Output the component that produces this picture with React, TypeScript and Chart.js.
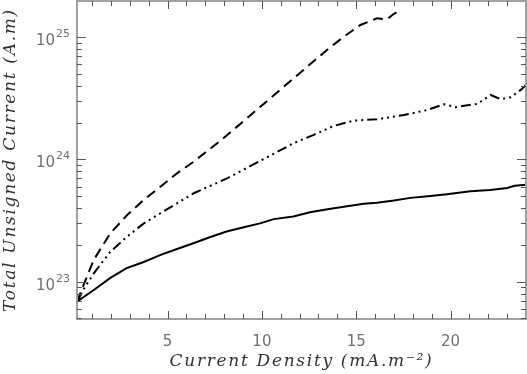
import React, { useEffect, useRef } from 'react';
import { Chart, registerables } from 'chart.js';

Chart.register(...registerables);

// Solid curve
const solidX = [0.2, 1.07, 1.95, 2.83, 3.74, 4.6, 5.5, 6.37, 7.27, 8.13, 9.04, 9.9, 10.63, 11.67, 12.55, 13.4, 14.34, 15.4, 16.1, 17.0, 17.87, 18.8, 19.81, 21.05, 22.1, 23.0, 23.4, 24.0];
const solidY = [6.86e22, 8.5e22, 1.07e23, 1.29e23, 1.45e23, 1.65e23, 1.85e23, 2.06e23, 2.32e23, 2.57e23, 2.79e23, 3.0e23, 3.25e23, 3.42e23, 3.7e23, 3.9e23, 4.1e23, 4.35e23, 4.43e23, 4.62e23, 4.85e23, 5.0e23, 5.19e23, 5.5e23, 5.62e23, 5.85e23, 6.1e23, 6.2e23];

// Dash-dot-dot-dot curve
const dotX = [0.2, 0.65, 1.09, 1.97, 2.86, 3.74, 4.62, 5.5, 6.39, 8.15, 10.0, 11.69, 12.75, 13.81, 14.87, 16.1, 17.53, 18.77, 19.65, 20.27, 21.42, 22.13, 22.66, 23.19, 23.72, 24.0];
const dotY = [6.86e22, 9.2e22, 1.17e23, 1.76e23, 2.34e23, 3.0e23, 3.63e23, 4.38e23, 5.29e23, 7.0e23, 9.9e23, 1.36e24, 1.59e24, 1.88e24, 2.08e24, 2.13e24, 2.31e24, 2.54e24, 2.83e24, 2.68e24, 2.85e24, 3.37e24, 3.11e24, 3.23e24, 3.71e24, 4.07e24];

// Dashed curve
const dashX = [0.2, 0.56, 1.09, 1.97, 2.86, 3.74, 4.62, 5.5, 6.39, 7.89, 9.92, 11.69, 13.45, 14.34, 15.22, 16.1, 16.63, 16.98, 17.4];
const dashY = [6.86e22, 9.5e22, 1.51e23, 2.49e23, 3.51e23, 4.67e23, 5.99e23, 7.7e23, 9.6e23, 1.46e24, 2.7e24, 4.62e24, 7.87e24, 1.01e25, 1.26e25, 1.43e25, 1.40e25, 1.55e25, 1.68e25];

const xTickLabels = [5, 10, 15, 20];
const yTickExponents = [23, 24, 25];

const X_MIN = 0.2;
const X_MAX = 24;
const Y_MIN = 4.95e22;
const Y_MAX = 1.98e25;

const toPoints = (xs: number[], ys: number[]) => xs.map((x, i) => ({ x, y: ys[i] }));

const framePlugin = {
  id: 'idlFrame',
  beforeDraw(chart: any) {
    (chart.ctx as any).letterSpacing = '1.7px';
  },
  beforeDatasetsDraw(chart: any) {
    (chart.ctx as any).letterSpacing = '0px';
  },
  afterDraw(chart: any) {
    const { ctx, chartArea: a, scales } = chart;
    const xs = scales.x;
    const ys = scales.y;
    ctx.save();
    (ctx as any).letterSpacing = '0px';
    // frame
    ctx.strokeStyle = '#a0a0a0';
    ctx.lineWidth = 2;
    ctx.strokeRect(a.left, a.top, a.right - a.left, a.bottom - a.top);
    // ticks
    ctx.strokeStyle = '#555';
    ctx.lineWidth = 1;
    ctx.beginPath();
    for (let v = 1; v < X_MAX; v++) {
      const px = Math.round(xs.getPixelForValue(v)) + 0.5;
      const len = v % 5 === 0 ? 8 : 5;
      ctx.moveTo(px, a.bottom);
      ctx.lineTo(px, a.bottom - len);
      ctx.moveTo(px, a.top);
      ctx.lineTo(px, a.top + len);
    }
    for (let e = 22; e <= 25; e++) {
      for (let m = 1; m <= 9; m++) {
        const v = m * Math.pow(10, e);
        if (v < Y_MIN || v > Y_MAX) continue;
        const py = Math.round(ys.getPixelForValue(v)) + 0.5;
        const len = m === 1 ? 9 : 5;
        ctx.moveTo(a.left, py);
        ctx.lineTo(a.left + len, py);
        ctx.moveTo(a.right, py);
        ctx.lineTo(a.right - len, py);
      }
    }
    ctx.stroke();

    // tick labels
    ctx.fillStyle = '#707070';
    ctx.font = '15px "DejaVu Sans"';
    ctx.textBaseline = 'alphabetic';
    ctx.textAlign = 'center';
    for (const t of xTickLabels) {
      ctx.fillText(String(t), xs.getPixelForValue(t), 346);
    }
    for (const e of yTickExponents) {
      const py = ys.getPixelForValue(Math.pow(10, e));
      const right = a.left - 7;
      ctx.font = '11px "DejaVu Sans"';
      const supW = ctx.measureText(String(e)).width;
      ctx.textAlign = 'right';
      ctx.fillText(String(e), right, py);
      ctx.font = '15px "DejaVu Sans"';
      ctx.fillText('10', right - supW - 1, py + 8);
    }
    ctx.restore();
  },
};

export default function App() {
  const ref = useRef<HTMLCanvasElement | null>(null);
  useEffect(() => {
    const canvas = ref.current;
    if (!canvas) return;
    const titleFont = { family: '"DejaVu Serif"', style: 'italic' as const, size: 17 };
    const chart = new Chart(canvas, {
      type: 'line',
      data: {
        datasets: [
          {
            data: toPoints(solidX, solidY),
            borderColor: '#000',
            borderWidth: 2,
            pointRadius: 0,
            tension: 0,
            fill: false,
          },
          {
            data: toPoints(dotX, dotY),
            borderColor: '#000',
            borderWidth: 2,
            borderDash: [10, 4, 2, 4, 2, 4, 2, 4],
            pointRadius: 0,
            tension: 0,
            fill: false,
          },
          {
            data: toPoints(dashX, dashY),
            borderColor: '#000',
            borderWidth: 2,
            borderDash: [10, 6],
            pointRadius: 0,
            tension: 0,
            fill: false,
          },
        ],
      },
      options: {
        responsive: false,
        animation: false,
        devicePixelRatio: 1,
        layout: { padding: { left: 0, right: 1, top: 1, bottom: 0 } },
        plugins: { legend: { display: false }, tooltip: { enabled: false } },
        scales: {
          x: {
            type: 'linear',
            min: X_MIN,
            max: X_MAX,
            grid: { display: false },
            border: { display: false },
            ticks: { display: false },
            title: {
              display: true,
              text: 'Current Density (mA.m⁻²)',
              font: titleFont,
              color: '#333',
              padding: { top: 0, bottom: 2 },
            },
            afterFit: (s: any) => {
              s.height = 55;
            },
          },
          y: {
            type: 'logarithmic',
            min: Y_MIN,
            max: Y_MAX,
            grid: { display: false },
            border: { display: false },
            ticks: { display: false },
            title: {
              display: true,
              text: 'Total Unsigned Current (A.m)',
              font: titleFont,
              color: '#333',
              padding: { top: 0, bottom: 0 },
            },
            afterFit: (s: any) => {
              s.width = 77;
            },
          },
        },
      } as any,
      plugins: [framePlugin],
    });
    return () => chart.destroy();
  }, []);

  return (
    <div style={{ position: 'absolute', left: 0, top: 0, width: 527, height: 374, background: '#fff' }}>
      <canvas ref={ref} width={527} height={374} style={{ width: 527, height: 374, display: 'block' }} />
    </div>
  );
}
